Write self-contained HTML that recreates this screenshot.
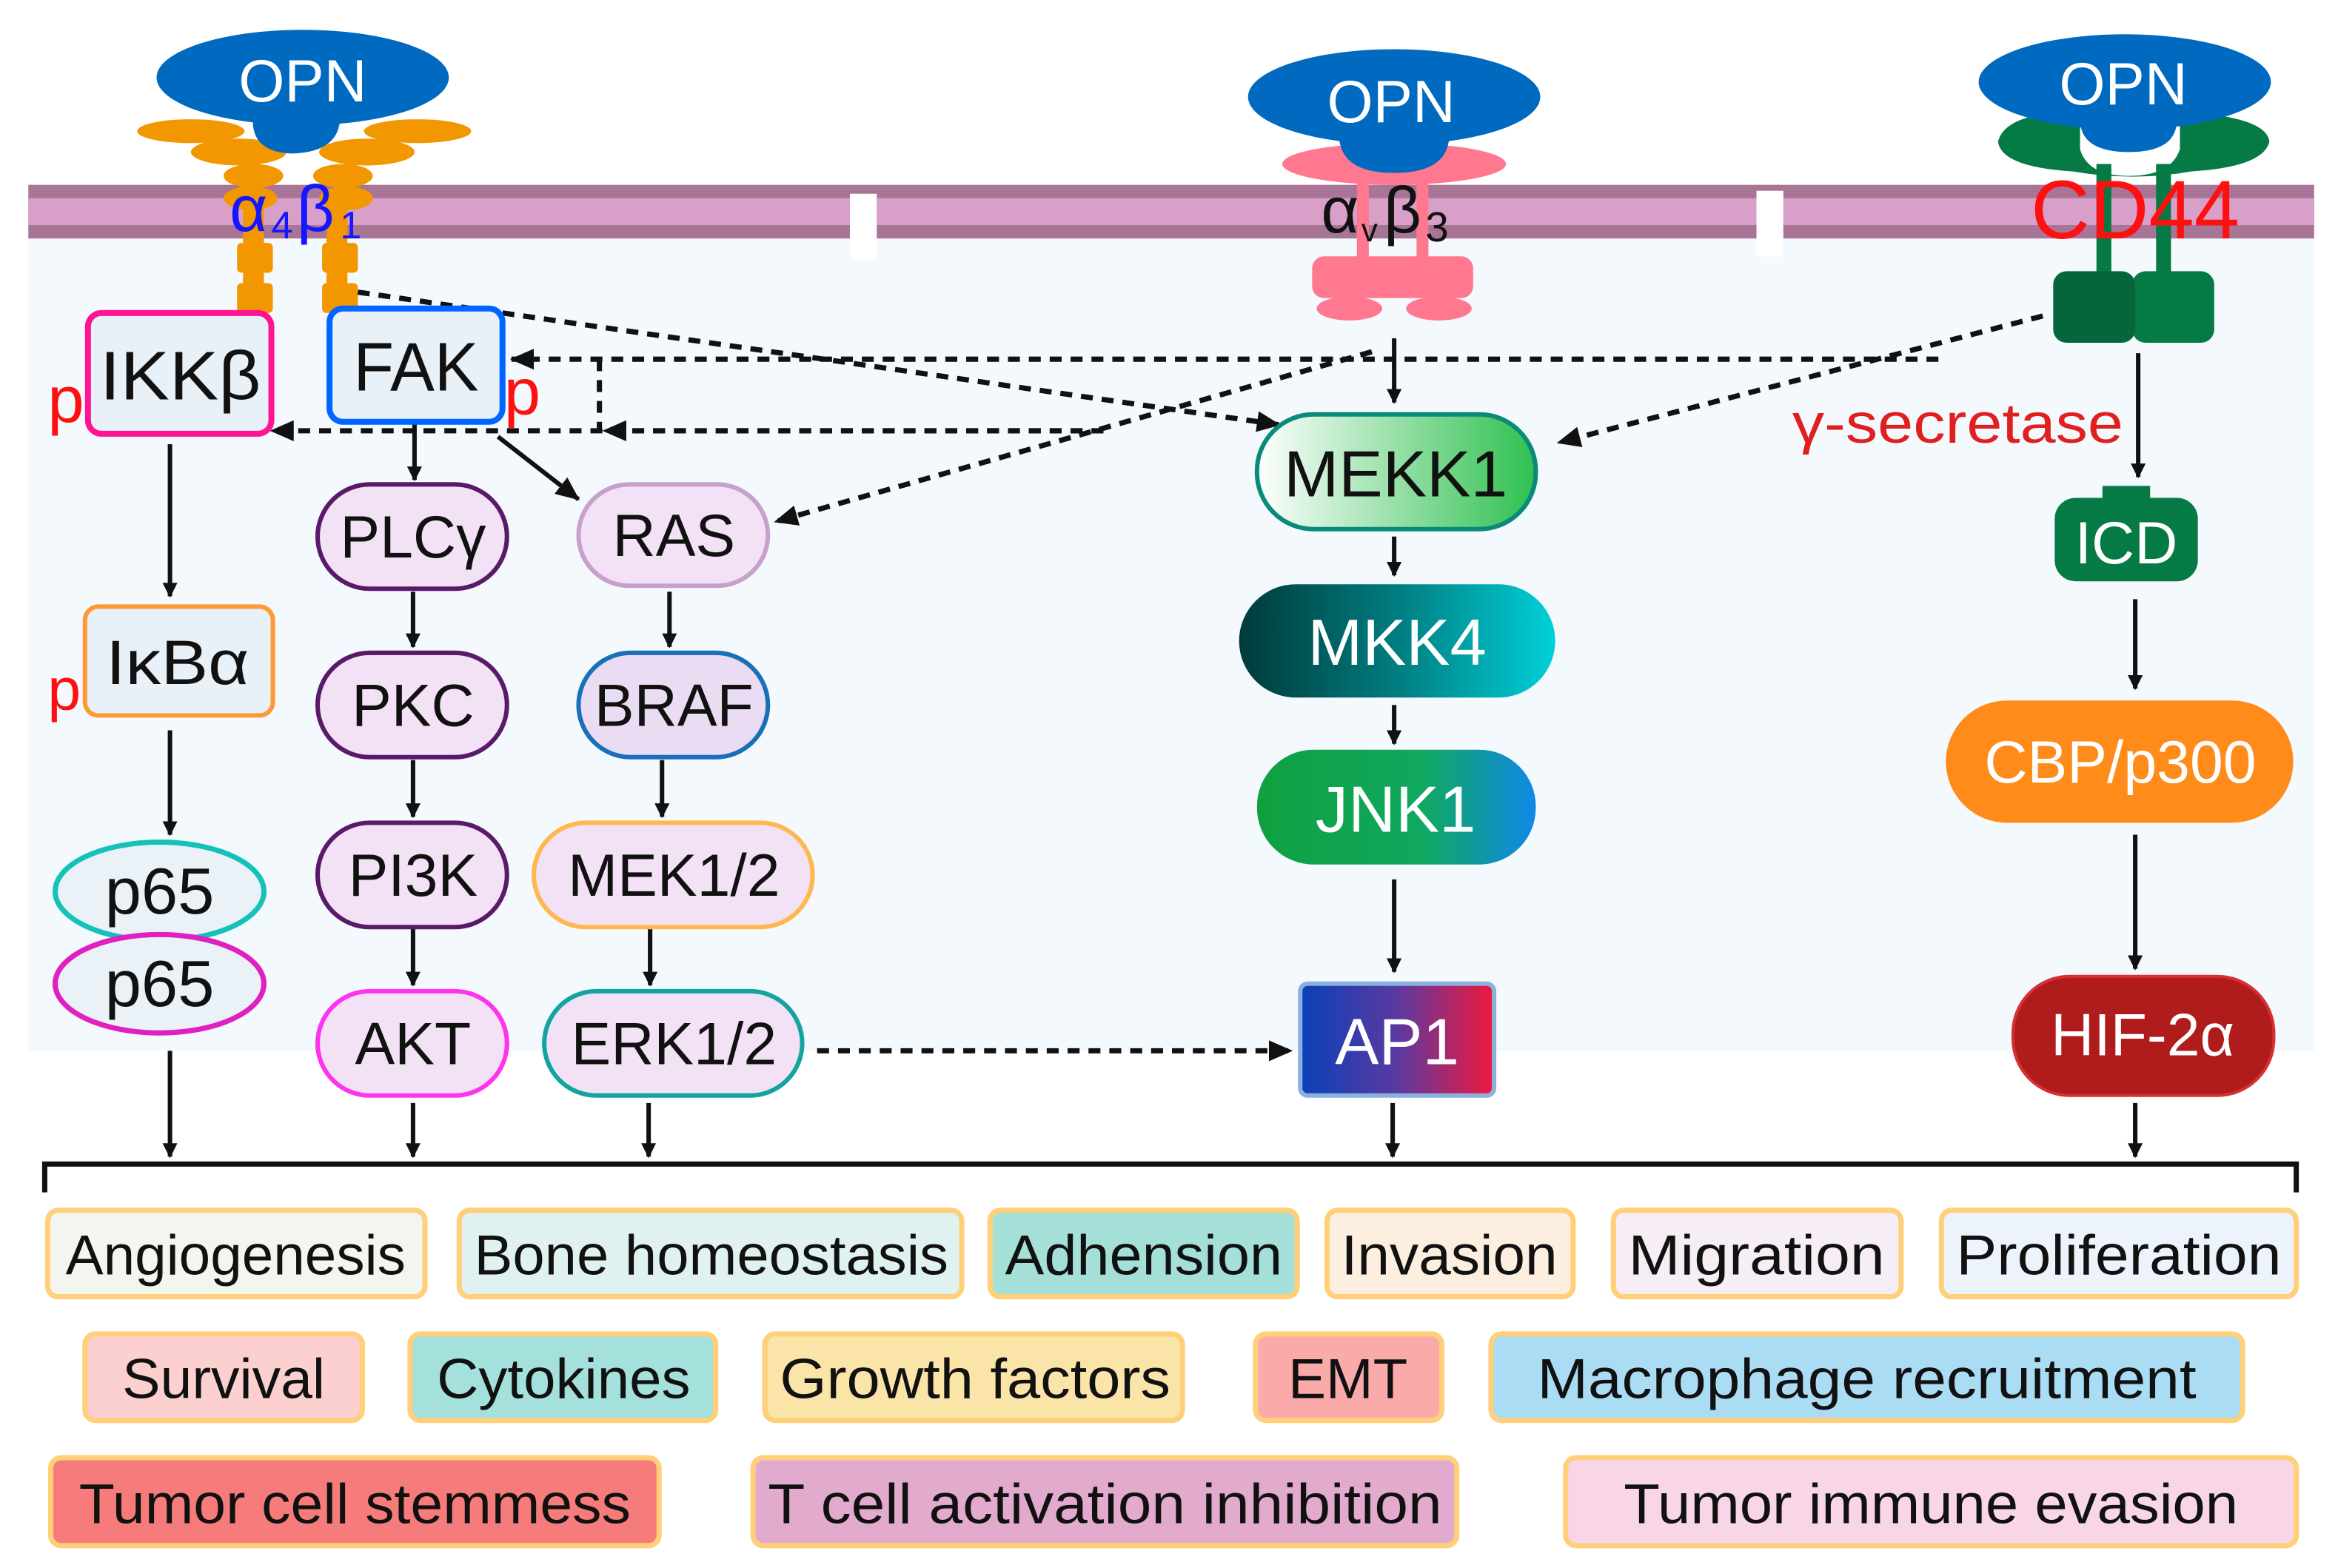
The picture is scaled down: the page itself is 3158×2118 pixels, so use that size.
<!DOCTYPE html>
<html><head><meta charset="utf-8"><style>
html,body{margin:0;padding:0;background:#fff;}
svg{display:block;}
text{font-family:"Liberation Sans",sans-serif;}
</style></head><body>
<svg width="3158" height="2118" viewBox="0 0 1568 1052" preserveAspectRatio="none" xmlns="http://www.w3.org/2000/svg">
<defs>
<marker id="a" markerWidth="10" markerHeight="10" refX="9" refY="5" orient="auto" markerUnits="userSpaceOnUse"><path d="M0,0 L10,5 L0,10 Z" fill="#111"/></marker>
<marker id="b" markerWidth="16" markerHeight="14" refX="15" refY="7" orient="auto" markerUnits="userSpaceOnUse"><path d="M0,0 L16,7 L0,14 Z" fill="#111"/></marker>
<linearGradient id="gMEKK" x1="0" x2="1"><stop offset="0" stop-color="#ffffff"/><stop offset="1" stop-color="#2ec050"/></linearGradient>
<linearGradient id="gMKK" x1="0" x2="1"><stop offset="0" stop-color="#003a3a"/><stop offset="0.5" stop-color="#007d80"/><stop offset="1" stop-color="#00d0d8"/></linearGradient>
<linearGradient id="gJNK" x1="0" x2="1"><stop offset="0" stop-color="#10a040"/><stop offset="0.6" stop-color="#10a860"/><stop offset="1" stop-color="#1088e8"/></linearGradient>
<linearGradient id="gAP" x1="0" x2="1"><stop offset="0" stop-color="#0a40b8"/><stop offset="0.5" stop-color="#5a3aa0"/><stop offset="1" stop-color="#f0183c"/></linearGradient>
</defs>

<rect x="19" y="160" width="1533" height="545" fill="#f4f9fd"/>
<rect x="19" y="124" width="1533" height="36" fill="#a87597"/>
<rect x="19" y="133" width="1533" height="18" fill="#d8a0c8"/>
<rect x="570" y="130" width="18" height="44" fill="#fff"/>
<rect x="1178" y="128" width="18" height="44" fill="#fff"/>

<!-- OPN1 + integrin a4b1 -->
<g fill="#f39700">
<ellipse cx="128" cy="88" rx="36" ry="8"/><ellipse cx="160" cy="102" rx="32" ry="9"/><ellipse cx="170" cy="118" rx="20" ry="8"/><ellipse cx="168" cy="133" rx="18" ry="8"/>
<ellipse cx="280" cy="88" rx="36" ry="8"/><ellipse cx="246" cy="102" rx="32" ry="9"/><ellipse cx="230" cy="118" rx="20" ry="8"/><ellipse cx="232" cy="133" rx="18" ry="8"/>
<rect x="163" y="135" width="14" height="70"/><rect x="159" y="163" width="24" height="20" rx="3"/><rect x="159" y="190" width="24" height="20" rx="3"/>
<rect x="219" y="135" width="14" height="70"/><rect x="216" y="163" width="24" height="20" rx="3"/><rect x="216" y="190" width="24" height="20" rx="3"/>
</g>
<ellipse cx="203" cy="52" rx="98" ry="32" fill="#0069c0"/>
<path d="M170,75 Q166,102 196,103 Q230,102 228,75 Z" fill="#0069c0"/>
<text x="203" y="68" font-size="40" fill="#fff" text-anchor="middle" textLength="86" lengthAdjust="spacingAndGlyphs">OPN</text>
<text x="154" y="155" font-size="44" fill="#1515ff">α</text><text x="182" y="160" font-size="26" fill="#1515ff">4</text><text x="199" y="155" font-size="44" fill="#1515ff">β</text><text x="228" y="160" font-size="26" fill="#1515ff">1</text>

<!-- OPN2 + avb3 -->
<g fill="#ff7890">
<ellipse cx="935" cy="110" rx="75" ry="14"/>
<rect x="910" y="118" width="8" height="60"/><rect x="950" y="118" width="8" height="60"/>
<rect x="880" y="172" width="108" height="28" rx="8"/>
<ellipse cx="905" cy="207" rx="22" ry="8"/><ellipse cx="965" cy="207" rx="22" ry="8"/>
</g>
<ellipse cx="935" cy="65" rx="98" ry="32" fill="#0069c0"/>
<path d="M898,90 Q898,116 935,116 Q972,116 972,90 Z" fill="#0069c0"/>
<text x="933" y="82" font-size="40" fill="#fff" text-anchor="middle" textLength="86" lengthAdjust="spacingAndGlyphs">OPN</text>
<text x="886" y="156" font-size="44" fill="#111">α</text><text x="913" y="162" font-size="22" fill="#111">v</text><text x="928" y="156" font-size="44" fill="#111">β</text><text x="956" y="162" font-size="28" fill="#111">3</text>

<!-- OPN3 + CD44 -->
<g fill="#067a45">
<path d="M1340,95 Q1345,75 1395,75 L1395,100 Q1400,118 1428,118 Q1456,118 1462,100 L1462,75 Q1520,78 1522,95 Q1518,112 1470,115 Q1430,122 1390,115 Q1342,112 1340,95 Z"/>
<rect x="1406" y="110" width="10" height="75"/><rect x="1446" y="110" width="10" height="75"/>
<rect x="1430" y="182" width="55" height="48" rx="9"/>
</g>
<rect x="1377" y="182" width="55" height="48" rx="9" fill="#04663a"/>
<ellipse cx="1425" cy="55" rx="98" ry="32" fill="#0069c0"/>
<path d="M1395,80 Q1395,102 1428,102 Q1460,102 1460,80 Z" fill="#0069c0"/>
<text x="1424" y="70" font-size="40" fill="#fff" text-anchor="middle" textLength="86" lengthAdjust="spacingAndGlyphs">OPN</text>
<text x="1432" y="160" font-size="56" fill="#ff1010" text-anchor="middle" textLength="140" lengthAdjust="spacingAndGlyphs">CD44</text>

<!-- dashed connectors -->
<g stroke="#111" stroke-width="3.5" stroke-dasharray="8,6" fill="none">
<path d="M240,196 L858,285" marker-end="url(#b)"/>
<path d="M1300,241 L343,241" marker-end="url(#b)"/>
<path d="M402,241 L402,289"/>
<path d="M740,289 L182,289" marker-end="url(#b)"/>
<path d="M740,289 L405,289" marker-end="url(#b)"/>
<path d="M920,236 L520,350" marker-end="url(#b)"/>
<path d="M1370,212 L1045,297" marker-end="url(#b)"/>
<path d="M548,705 L866,705" marker-end="url(#b)"/>
</g>

<g stroke="#111" stroke-width="3" fill="none">
<path d="M935,227 L935,270" marker-end="url(#a)"/>
<path d="M1434,237 L1434,320" marker-end="url(#a)"/>
<path d="M278,284 L278,322" marker-end="url(#a)"/>
<path d="M334,293 L388,335" marker-end="url(#b)"/>
<path d="M114,298 L114,400" marker-end="url(#a)"/>
<path d="M114,490 L114,560" marker-end="url(#a)"/>
<path d="M277,397 L277,434" marker-end="url(#a)"/>
<path d="M449,397 L449,434" marker-end="url(#a)"/>
<path d="M277,510 L277,548" marker-end="url(#a)"/>
<path d="M444,510 L444,548" marker-end="url(#a)"/>
<path d="M277,623 L277,661" marker-end="url(#a)"/>
<path d="M436,623 L436,661" marker-end="url(#a)"/>
<path d="M935,360 L935,386" marker-end="url(#a)"/>
<path d="M935,473 L935,499" marker-end="url(#a)"/>
<path d="M935,590 L935,652" marker-end="url(#a)"/>
<path d="M1432,402 L1432,462" marker-end="url(#a)"/>
<path d="M1432,560 L1432,650" marker-end="url(#a)"/>
<path d="M114,705 L114,776" marker-end="url(#a)"/>
<path d="M277,740 L277,776" marker-end="url(#a)"/>
<path d="M435,740 L435,776" marker-end="url(#a)"/>
<path d="M934,740 L934,776" marker-end="url(#a)"/>
<path d="M1432,740 L1432,776" marker-end="url(#a)"/>
<path d="M30,800 L30,781 L1540,781 L1540,800" stroke-width="3.5"/>
</g>

<rect x="59" y="210" width="123" height="81" rx="9" fill="#e8f0f8" stroke="#ff1493" stroke-width="4"/>
<text x="121" y="268" font-size="46" fill="#111" text-anchor="middle" textLength="108" lengthAdjust="spacingAndGlyphs">IKKβ</text>
<text x="32" y="283" font-size="44" fill="#ff1010">p</text>
<rect x="221" y="207" width="116" height="76" rx="9" fill="#e8f0f8" stroke="#0066ff" stroke-width="4"/>
<text x="279" y="262" font-size="46" fill="#111" text-anchor="middle" textLength="84" lengthAdjust="spacingAndGlyphs">FAK</text>
<text x="338" y="278" font-size="44" fill="#ff1010">p</text>
<rect x="57" y="407" width="126" height="73" rx="9" fill="#e8f0f8" stroke="#ff9933" stroke-width="3"/>
<text x="119" y="459" font-size="42" fill="#111" text-anchor="middle" textLength="96" lengthAdjust="spacingAndGlyphs">IκBα</text>
<text x="32" y="476" font-size="40" fill="#ff1010">p</text>

<ellipse cx="107" cy="598" rx="70" ry="33" fill="#eaf2f8" stroke="#15c1b8" stroke-width="3.5"/>
<ellipse cx="107" cy="660" rx="70" ry="33" fill="#eaf2f8" stroke="#e020c0" stroke-width="3.5"/>
<text x="107" y="613" font-size="44" fill="#111" text-anchor="middle">p65</text>
<text x="107" y="675" font-size="44" fill="#111" text-anchor="middle">p65</text>

<g stroke-width="3" fill="#f3e2f5">
<rect x="213" y="325" width="127" height="70" rx="35" stroke="#5a1a6a"/>
<rect x="388" y="325" width="127" height="68" rx="34" stroke="#c8a0cc"/>
<rect x="213" y="438" width="127" height="70" rx="35" stroke="#5a1a6a"/>
<rect x="388" y="438" width="127" height="70" rx="35" stroke="#1a70b8" fill="#eadcf2"/>
<rect x="213" y="552" width="127" height="70" rx="35" stroke="#5a1a6a"/>
<rect x="358" y="552" width="187" height="70" rx="35" stroke="#ffb84d"/>
<rect x="213" y="665" width="127" height="70" rx="35" stroke="#ff33ee"/>
<rect x="365" y="665" width="173" height="70" rx="35" stroke="#13a3a0"/>
</g>
<g font-size="40" fill="#111" text-anchor="middle">
<text x="277" y="374">PLCγ</text>
<text x="452" y="373">RAS</text>
<text x="277" y="487">PKC</text>
<text x="452" y="487">BRAF</text>
<text x="277" y="601">PI3K</text>
<text x="452" y="601">MEK1/2</text>
<text x="277" y="714">AKT</text>
<text x="452" y="714">ERK1/2</text>
</g>

<rect x="843" y="278" width="187" height="77" rx="38" fill="url(#gMEKK)" stroke="#0a8a7a" stroke-width="3"/>
<text x="936" y="333" font-size="44" fill="#111" text-anchor="middle" textLength="150" lengthAdjust="spacingAndGlyphs">MEKK1</text>
<rect x="831" y="392" width="212" height="76" rx="38" fill="url(#gMKK)"/>
<text x="937" y="446" font-size="44" fill="#fff" text-anchor="middle">MKK4</text>
<rect x="843" y="503" width="187" height="77" rx="38" fill="url(#gJNK)"/>
<text x="936" y="558" font-size="44" fill="#fff" text-anchor="middle">JNK1</text>
<rect x="872" y="660" width="130" height="75" rx="5" fill="url(#gAP)" stroke="#8ab0e0" stroke-width="3"/>
<text x="937" y="714" font-size="44" fill="#fff" text-anchor="middle">AP1</text>

<text x="1202" y="297" font-size="38" fill="#e02020" textLength="222" lengthAdjust="spacingAndGlyphs">γ-secretase</text>
<rect x="1378" y="334" width="96" height="56" rx="14" fill="#067a45"/>
<rect x="1410" y="326" width="32" height="12" fill="#067a45"/>
<text x="1426" y="378" font-size="40" fill="#fff" text-anchor="middle">ICD</text>
<rect x="1305" y="470" width="233" height="82" rx="41" fill="#ff8c1a"/>
<text x="1422" y="525" font-size="40" fill="#fff" text-anchor="middle">CBP/p300</text>
<rect x="1350" y="655" width="175" height="80" rx="38" fill="#b01c1c" stroke="#d83030" stroke-width="2"/>
<text x="1437" y="708" font-size="40" fill="#fff" text-anchor="middle">HIF-2α</text>

<g stroke="#ffcf7a" stroke-width="3.5">
<rect x="32" y="812" width="253" height="58" rx="7" fill="#f3f6ee"/>
<rect x="308" y="812" width="337" height="58" rx="7" fill="#dff2ef"/>
<rect x="664" y="812" width="206" height="58" rx="7" fill="#a4e0d8"/>
<rect x="890" y="812" width="165" height="58" rx="7" fill="#fdefe0"/>
<rect x="1082" y="812" width="193" height="58" rx="7" fill="#f6eef4"/>
<rect x="1302" y="812" width="238" height="58" rx="7" fill="#ecf3fb"/>
<rect x="57" y="895" width="186" height="58" rx="7" fill="#fdd0d0"/>
<rect x="275" y="895" width="205" height="58" rx="7" fill="#a4e0dc"/>
<rect x="513" y="895" width="280" height="58" rx="7" fill="#fbe4a8"/>
<rect x="842" y="895" width="125" height="58" rx="7" fill="#fbaaaa"/>
<rect x="1000" y="895" width="504" height="58" rx="7" fill="#aadcf4"/>
<rect x="34" y="978" width="408" height="59" rx="7" fill="#f67b7b"/>
<rect x="505" y="978" width="472" height="59" rx="7" fill="#e2aacc"/>
<rect x="1050" y="978" width="490" height="59" rx="7" fill="#f8d6e8"/>
</g>
<g font-size="38" fill="#111" text-anchor="middle">
<text x="158" y="855" textLength="228" lengthAdjust="spacingAndGlyphs">Angiogenesis</text>
<text x="477" y="855" textLength="318" lengthAdjust="spacingAndGlyphs">Bone homeostasis</text>
<text x="767" y="855" textLength="186" lengthAdjust="spacingAndGlyphs">Adhension</text>
<text x="972" y="855" textLength="145" lengthAdjust="spacingAndGlyphs">Invasion</text>
<text x="1178" y="855" textLength="172" lengthAdjust="spacingAndGlyphs">Migration</text>
<text x="1421" y="855" textLength="218" lengthAdjust="spacingAndGlyphs">Proliferation</text>
<text x="150" y="938" textLength="136" lengthAdjust="spacingAndGlyphs">Survival</text>
<text x="378" y="938" textLength="170" lengthAdjust="spacingAndGlyphs">Cytokines</text>
<text x="654" y="938" textLength="262" lengthAdjust="spacingAndGlyphs">Growth factors</text>
<text x="904" y="938" textLength="80" lengthAdjust="spacingAndGlyphs">EMT</text>
<text x="1252" y="938" textLength="442" lengthAdjust="spacingAndGlyphs">Macrophage recruitment</text>
<text x="238" y="1022" textLength="370" lengthAdjust="spacingAndGlyphs">Tumor cell stemmess</text>
<text x="741" y="1022" textLength="452" lengthAdjust="spacingAndGlyphs">T cell activation inhibition</text>
<text x="1295" y="1022" textLength="412" lengthAdjust="spacingAndGlyphs">Tumor immune evasion</text>
</g>
</svg>
</body></html>
